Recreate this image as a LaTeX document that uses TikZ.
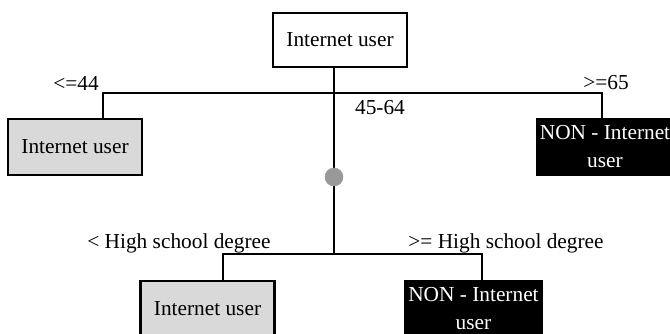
\documentclass[tikz,border=0pt]{standalone}
\usepackage{fontspec}
\setmainfont{Liberation Serif}
\usepackage{xcolor}
\definecolor{tree-black}{HTML}{000000}
\definecolor{tree-gray}{HTML}{D9D9D9}
\definecolor{chance-gray}{HTML}{999999}
\usepackage{tikz}

\tikzset{
    box/.style={draw=tree-black, line width=2pt, minimum width=100.5pt, minimum height=42pt, inner sep=2pt, align=center},
    plainbox/.style={box, fill=white},
    graybox/.style={box, fill=tree-gray},
    blackbox/.style={box, fill=tree-black, text=white, font=\fontsize{16}{21}\selectfont},
    branch/.style={draw=tree-black, line width=1.5pt},
    chance/.style={circle, fill=chance-gray, draw=chance-gray, minimum size=13.5pt, inner sep=0pt},
    cond/.style={inner sep=0pt}
}

\begin{document}
\begin{tikzpicture}[x=0.75pt, y=-0.75pt, font=\fontsize{16}{21}\selectfont]

    % Frame
    \useasboundingbox (0, 0) rectangle (670, 334);

    % Root
    \node[plainbox, minimum height=40.5pt] (root) at (340, 40) {Internet user};

    % Leaves
    \node[graybox] (leafL) at (75, 147) {Internet user};
    \node[blackbox] (leafR) at (605, 147) {NON - Internet\\user};
    \node[graybox] (leafLL) at (207.5, 309) {Internet user};
    \node[blackbox] (leafLR) at (473.5, 309) {NON - Internet\\user};

    % Splits
    \coordinate (age) at (334, 93);
    \coordinate (ageL) at (103, 93);
    \coordinate (ageR) at (602, 93);
    \coordinate (edu) at (334, 254);
    \coordinate (eduL) at (223, 254);
    \coordinate (eduR) at (482, 254);

    \draw[branch] (root.south -| age) -- (age) -- (edu);
    \draw[branch] (leafL.north -| ageL) -- (ageL) -- (ageR) -- (leafR.north -| ageR);
    \draw[branch] (leafLL.north -| eduL) -- (eduL) -- (eduR) -- (leafLR.north -| eduR);

    % Chance node
    \node[chance] (ask) at (334, 177) {};

    % Conditions
    \node[cond] (young) at (76, 83) {<=44};
    \node[cond] (old) at (606, 83) {>=65};
    \node[cond] (middle) at (380, 108) {45-64};
    \node[cond] (nodeg) at (179, 243) {< High school degree};
    \node[cond] (deg) at (506, 243) {>= High school degree};

\end{tikzpicture}
\end{document}
